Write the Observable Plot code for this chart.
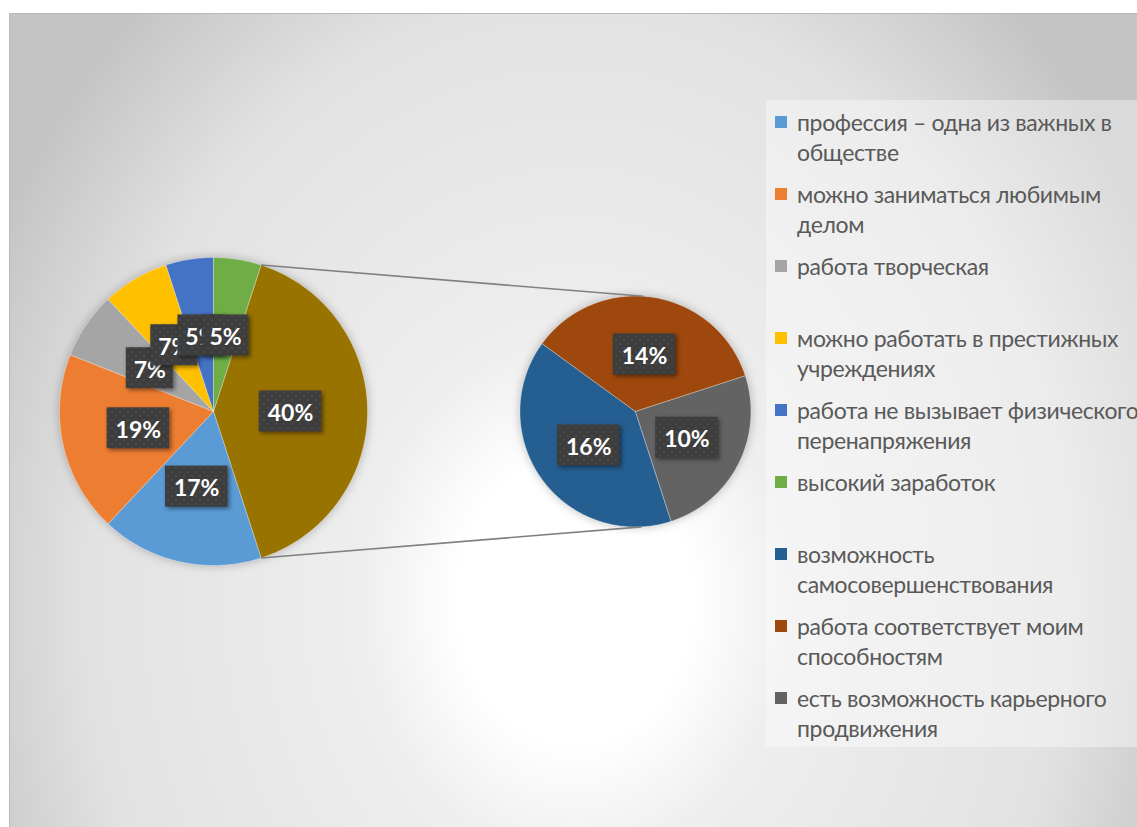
<!DOCTYPE html>
<html>
<head>
<meta charset="utf-8">
<script src="https://cdn.jsdelivr.net/npm/d3@7"></script>
<script src="https://cdn.jsdelivr.net/npm/@observablehq/plot@0.6"></script>
<style>
  html, body { margin: 0; padding: 0; background: #ffffff; width: 1137px; height: 827px; overflow: hidden; }
  #chart {
    position: absolute; left: 9px; top: 13px; width: 1140px; height: 820px;
    border: 1px solid #b9b9b9;
    background: radial-gradient(650px 800px at 565px 586px, #ffffff 0%, #ffffff 18%, #eeeeee 33%, #e2e2e2 75%, #c4c4c4 100%);
  }
  #plot { position: absolute; left: 0; top: 0; }
  #plot svg { background: transparent !important; }
  #legend {
    position: absolute; left: 756px; top: 86px; width: 390px; height: 647px;
    background: rgba(255,255,255,0.38);
    font-family: Lato, "Open Sans", sans-serif; font-size: 23px; color: #595959;
    letter-spacing: -0.35px;
  }
  .item { position: absolute; left: 0; width: 100%; height: 72px; }
  .sw { position: absolute; left: 9px; top: 9px; width: 12px; height: 12px; }
  .txt { position: absolute; left: 31px; top: 0; line-height: 30px; white-space: pre; }
  g[aria-label="line"] { filter: drop-shadow(0 0 5px rgba(0,0,0,0.25)); }
  g[aria-label="rect"] rect { filter: drop-shadow(2px 2px 2px rgba(0,0,0,0.45)); }
</style>
</head>
<body>
<svg width="0" height="0" style="position:absolute">
  <defs>
    <pattern id="dots" width="8" height="8" patternUnits="userSpaceOnUse">
      <rect width="8" height="8" fill="#3d3d3d"></rect>
      <circle cx="2" cy="2" r="1.1" fill="#4c4c4c"></circle>
      <circle cx="6" cy="6" r="1.1" fill="#4c4c4c"></circle>
    </pattern>
  </defs>
</svg>
<div id="chart">
  <div id="plot"></div>
  <div id="legend"></div>
</div>
<script>
// ---- data ----
const mainCategories = [
  "профессия – одна из важных в\nобществе",
  "можно заниматься любимым\nделом",
  "работа творческая",
  "можно работать в престижных\nучреждениях",
  "работа не вызывает физического\nперенапряжения",
  "высокий заработок"
];
const mainValues = [17, 19, 7, 7, 5, 5];
const mainColors = ["#5B9BD5", "#ED7D31", "#A5A5A5", "#FFC000", "#4472C4", "#70AD47"];

const subCategories = [
  "возможность\nсамосовершенствования",
  "работа соответствует моим\nспособностям",
  "есть возможность карьерного\nпродвижения"
];
const subValues = [16, 14, 10];
const subColors = ["#255E91", "#9E480E", "#636363"];
const otherColor = "#997300";

// ---- layout ----
const W = 1128, H = 813;
const R = 154;               // main pie radius (px)
const C1 = [203, 397];       // main pie centre (px, svg coords)
const SUB_CX = 2.74;         // second pie centre (in main-radius units)
const SUB_R = 0.75;          // second pie radius (units)
const xDomain = [-C1[0] / R, (W - C1[0]) / R];
const yDomain = [-(H - C1[1]) / R, C1[1] / R];

// ---- build slices ----
const total = d3.sum(mainValues) + d3.sum(subValues);
const otherValue = d3.sum(subValues);
const otherSweep = 360 * otherValue / total;
const otherStart = 90 - otherSweep / 2;

const slices = [];
let a = otherStart;
slices.push({name: "Другое", color: otherColor, value: otherValue, a0: a, a1: a + otherSweep, cx: 0, r: 1});
a += otherSweep;
mainValues.forEach((v, i) => {
  const s = 360 * v / total;
  slices.push({name: mainCategories[i], color: mainColors[i], value: v, a0: a, a1: a + s, cx: 0, r: 1});
  a += s;
});
const subTotal = d3.sum(subValues);
let b = 180 - otherStart;
subValues.forEach((v, i) => {
  const s = 360 * v / subTotal;
  slices.push({name: subCategories[i], color: subColors[i], value: v, a0: b, a1: b + s, cx: SUB_CX, r: SUB_R});
  b += s;
});

const rad = d => d * Math.PI / 180;
function poly(s) {
  const pts = [{x: s.cx, y: 0}];
  const n = Math.max(2, Math.ceil(s.a1 - s.a0));
  for (let k = 0; k <= n; k++) {
    const t = rad(s.a0 + (s.a1 - s.a0) * k / n);
    pts.push({x: s.cx + s.r * Math.sin(t), y: s.r * Math.cos(t)});
  }
  pts.push({x: s.cx, y: 0});
  return pts.map(p => ({...p, name: s.name, color: s.color}));
}

// labels at half radius along the mid angle
const labels = slices.map(s => {
  const m = rad((s.a0 + s.a1) / 2);
  const text = Math.round(s.value / total * 100) + "%";
  const hw = (16 + 15.5 * text.length) / 2 / R;
  const hh = 20.5 / R;
  const lx = s.cx + 0.5 * s.r * Math.sin(m), ly = 0.5 * s.r * Math.cos(m);
  return {text, lx, ly, x1: lx - hw, x2: lx + hw, y1: ly - hh, y2: ly + hh};
});

const connectors = [
  {x1: Math.sin(rad(otherStart)), y1: Math.cos(rad(otherStart)),
   x2: SUB_CX + SUB_R * Math.sin(rad(4)), y2: SUB_R * Math.cos(rad(4))},
  {x1: Math.sin(rad(otherStart + otherSweep)), y1: Math.cos(rad(otherStart + otherSweep)),
   x2: SUB_CX + SUB_R * Math.sin(rad(177)), y2: SUB_R * Math.cos(rad(177))}
];

const plot = Plot.plot({
  width: W, height: H,
  margin: 0,
  x: {domain: xDomain, axis: null},
  y: {domain: yDomain, axis: null},
  color: {type: "identity"},
  style: {background: "transparent", overflow: "visible"},
  marks: [
    Plot.line(slices.flatMap(poly), {x: "x", y: "y", z: "name", fill: "color",
      stroke: "#ffffff", strokeWidth: 0.7, strokeOpacity: 0.45}),
    Plot.link(connectors, {x1: "x1", y1: "y1", x2: "x2", y2: "y2", stroke: "#808080", strokeWidth: 1.6}),
    ...labels.flatMap(l => [
      Plot.rect([l], {x1: "x1", x2: "x2", y1: "y1", y2: "y2", fill: "url(#dots)"}),
      Plot.text([l], {x: "lx", y: "ly", text: "text", fill: "#ffffff", fontSize: 23,
        fontWeight: "bold", fontFamily: "Lato, 'Open Sans', sans-serif", dy: 2})
    ])
  ]
});
document.getElementById("plot").appendChild(plot);

// ---- legend ----
const legend = document.getElementById("legend");
const legendItems = [
  ...mainCategories.map((c, i) => ({name: c, color: mainColors[i]})),
  ...subCategories.map((c, i) => ({name: c, color: subColors[i]}))
];
legendItems.forEach((it, i) => {
  const div = document.createElement("div");
  div.className = "item";
  div.style.top = (7 + 72 * i) + "px";
  const sw = document.createElement("div");
  sw.className = "sw";
  sw.style.background = it.color;
  const tx = document.createElement("div");
  tx.className = "txt";
  tx.textContent = it.name;
  div.appendChild(sw); div.appendChild(tx);
  legend.appendChild(div);
});
</script>
</body>
</html>
